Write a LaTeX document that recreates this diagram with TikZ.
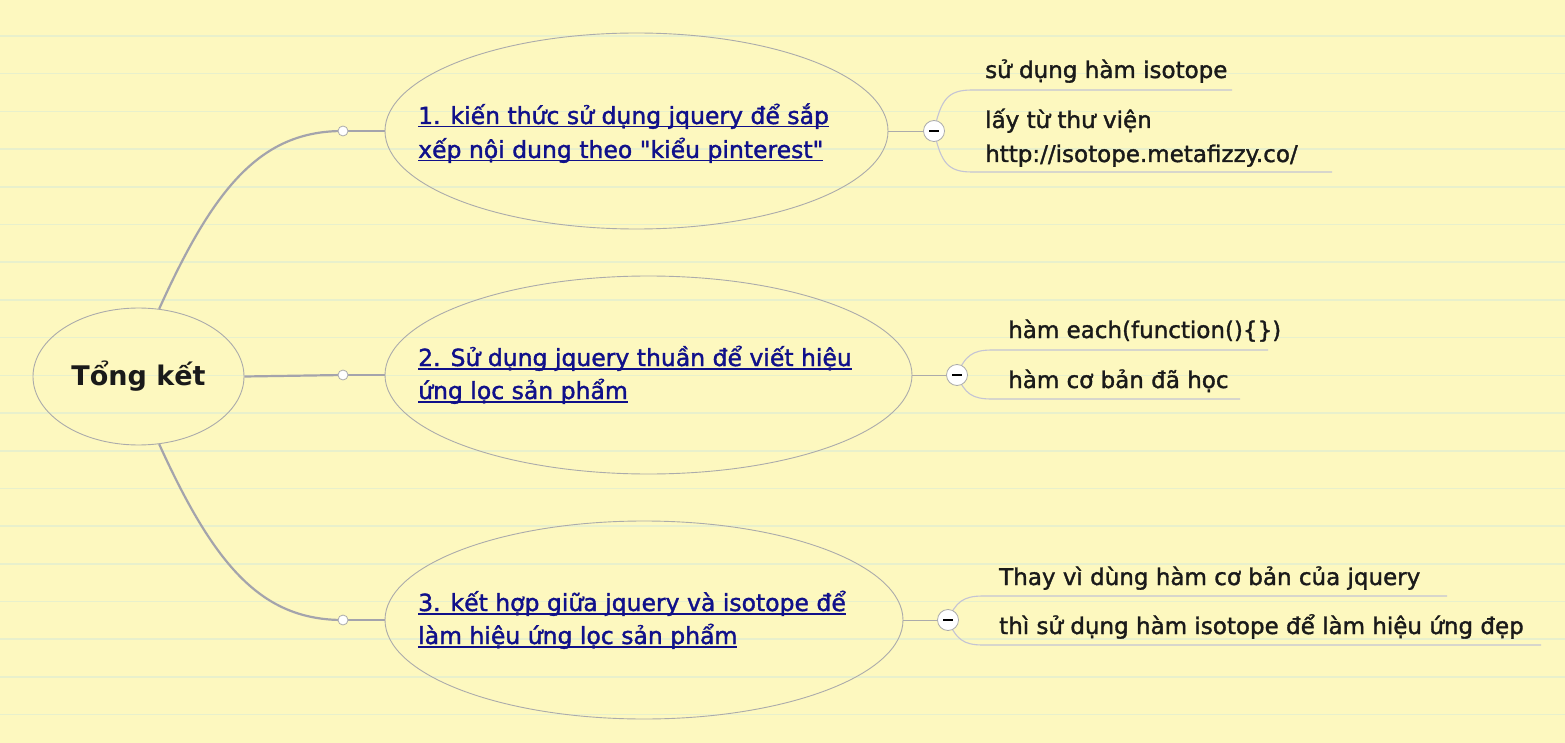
\documentclass[tikz,border=0pt]{standalone}
\usepackage{fontspec}
\setmainfont{DejaVu Sans}
\newfontfamily\comicish[FakeBold=1.5]{DejaVu Sans}
\usetikzlibrary{shapes.geometric}
\pgfdeclarelayer{paper}
\pgfdeclarelayer{wires}
\pgfsetlayers{paper,wires,main}
\definecolor{bg}{HTML}{FDF8BF}
\definecolor{rulec}{HTML}{E8F0CC}
\definecolor{ellc}{HTML}{ABABAB}
\definecolor{branchc}{HTML}{A4A4AC}
\definecolor{childc}{HTML}{C4C4D4}
\definecolor{linkc}{HTML}{10108A}
\definecolor{textc}{HTML}{1A1A1A}
\newcommand\myul[1]{\setbox0\hbox{#1}\rlap{\color{linkc}\rule[-3.5pt]{\wd0}{1.4pt}}\box0}
\tikzset{
  topic/.style={ellipse, draw=ellc, line width=0.9pt, inner sep=0pt},
  topictext/.style={anchor=base west, inner sep=0pt, text=linkc, font=\fontsize{23.5}{33}\comicish},
  rootnode/.style={ellipse, draw=ellc, line width=0.9pt, inner sep=0pt,
    text=textc, font=\fontsize{27}{32}\selectfont\bfseries},
  dot/.style={circle, draw=ellc, fill=white, line width=0.8pt, minimum size=10pt, inner sep=0pt},
  minusbtn/.style={circle, draw=ellc, fill=white, line width=0.8pt, minimum size=21pt, inner sep=0pt,
    path picture={\draw[black, line width=1.2pt] ([xshift=-5pt]path picture bounding box.center) -- ([xshift=5pt]path picture bounding box.center);}},
  branch/.style={draw=branchc, line width=2.2pt},
  branchthin/.style={draw=branchc, line width=1.6pt},
  stem/.style={draw=ellc, line width=0.9pt},
  childline/.style={draw=childc, line width=1.1pt},
  childtext/.style={anchor=base west, inner sep=0pt, text=textc, font=\fontsize{23}{33}\comicish},
  rulestyle/.style={draw=rulec, line width=1.6pt}
}
\begin{document}
\begin{tikzpicture}[x=1pt,y=-1pt]
\useasboundingbox (0,0) rectangle (1565,743);
\begin{pgfonlayer}{paper}
\fill[bg] (0,0) rectangle (1565,743);
\foreach \k in {0,...,18} \draw[rulestyle] (0,36+37.7*\k) -- (1565,36+37.7*\k);
\end{pgfonlayer}

% root
\node[rootnode, minimum width=211pt, minimum height=137pt] (root) at (138.5,376.5) {Tổng kết};

% main topics (shapes)
\node[topic, minimum width=503pt, minimum height=196pt] (e1) at (636.5,131) {};
\node[topic, minimum width=527pt, minimum height=198pt] (e2) at (648.5,375) {};
\node[topic, minimum width=518pt, minimum height=198pt] (e3) at (644,620) {};

% main topic texts
\node[topictext] (l1a) at (418,124) {\myul{1. kiến thức sử dụng jquery để sắp}};
\node[topictext] (l1b) at (418,158) {\myul{xếp nội dung theo \textquotedbl kiểu pinterest\textquotedbl}};
\node[topictext] (l2a) at (418,366) {\myul{2. Sử dụng jquery thuần để viết hiệu}};
\node[topictext] (l2b) at (418,399) {\myul{ứng lọc sản phẩm}};
\node[topictext] (l3a) at (418,611) {\myul{3. kết hợp giữa jquery và isotope để}};
\node[topictext] (l3b) at (418,644) {\myul{làm hiệu ứng lọc sản phẩm}};

% small dots
\node[dot] (d1) at (343,131) {};
\node[dot] (d2) at (343,375) {};
\node[dot] (d3) at (343,620) {};

% collapse buttons
\node[minusbtn] (m1) at (934,131) {};
\node[minusbtn] (m2) at (957,375) {};
\node[minusbtn] (m3) at (948,620) {};

% child texts
\node[childtext] (t1a) at (985,78) {sử dụng hàm isotope};
\node[childtext] (t1b) at (985,128) {lấy từ thư viện};
\node[childtext] (t1c) at (985,162) {http://isotope.metafizzy.co/};
\node[childtext] (t2a) at (1008,338) {hàm each(function()\{\})};
\node[childtext] (t2b) at (1008,388) {hàm cơ bản đã học};
\node[childtext] (t3a) at (999,585) {Thay vì dùng hàm cơ bản của jquery};
\node[childtext] (t3b) at (999,634) {thì sử dụng hàm isotope để làm hiệu ứng đẹp};

% child line ends
\coordinate (c1a) at (1232,90);
\coordinate (c1b) at (1332,172);
\coordinate (c2a) at (1268,350);
\coordinate (c2b) at (1240,399);
\coordinate (c3a) at (1447,596);
\coordinate (c3b) at (1541,645);

\begin{pgfonlayer}{wires}
% branches
\draw[branch] (root.73) .. controls (215,185) and (262,131) .. (d1.center);
\draw[branch] (root.-73) .. controls (215,567) and (262,620) .. (d3.center);
\draw[branch] (root.east) -- (d2.center);
\draw[branchthin] (d1.center) -- (e1.west);
\draw[branchthin] (d2.center) -- (e2.west);
\draw[branchthin] (d3.center) -- (e3.west);
% stems
\draw[stem] (e1.east) -- (m1.center);
\draw[stem] (e2.east) -- (m2.center);
\draw[stem] (e3.east) -- (m3.center);
% children
\draw[childline] (m1.center) .. controls (941,99) and (948,90) .. (972,90) -- (c1a);
\draw[childline] (m1.center) .. controls (941,163) and (948,172) .. (972,172) -- (c1b);
\draw[childline] (m2.center) .. controls (965,356) and (972,350) .. (992,350) -- (c2a);
\draw[childline] (m2.center) .. controls (965,394) and (972,399) .. (992,399) -- (c2b);
\draw[childline] (m3.center) .. controls (956,602) and (963,596) .. (983,596) -- (c3a);
\draw[childline] (m3.center) .. controls (956,639) and (963,645) .. (983,645) -- (c3b);
\end{pgfonlayer}
\end{tikzpicture}
\end{document}
